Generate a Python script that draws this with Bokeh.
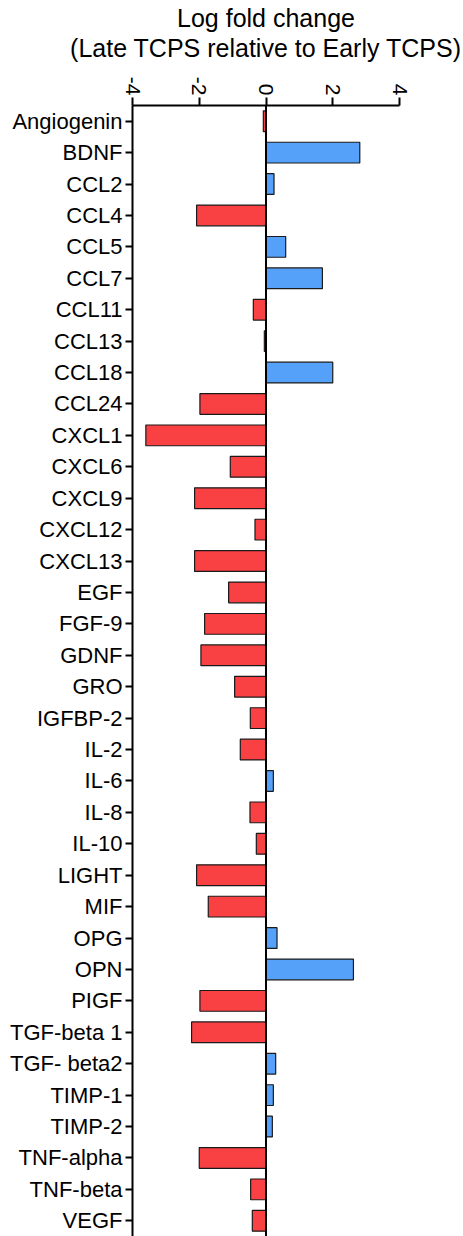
import math
from bokeh.plotting import figure
from bokeh.models import FactorRange, Range1d, Span, FixedTicker, ColumnDataSource
from bokeh.embed import file_html
from bokeh.resources import INLINE

categories = ["Angiogenin", "BDNF", "CCL2", "CCL4", "CCL5", "CCL7", "CCL11", "CCL13",
              "CCL18", "CCL24", "CXCL1", "CXCL6", "CXCL9", "CXCL12", "CXCL13", "EGF",
              "FGF-9", "GDNF", "GRO", "IGFBP-2", "IL-2", "IL-6", "IL-8", "IL-10",
              "LIGHT", "MIF", "OPG", "OPN", "PIGF", "TGF-beta 1", "TGF- beta2",
              "TIMP-1", "TIMP-2", "TNF-alpha", "TNF-beta", "VEGF"]
log_fold_change = [-0.08, 2.81, 0.24, -2.08, 0.59, 1.69, -0.38, -0.05,
                   2.0, -1.98, -3.6, -1.07, -2.14, -0.33, -2.14, -1.12,
                   -1.84, -1.95, -0.94, -0.47, -0.77, 0.22, -0.48, -0.29,
                   -2.08, -1.73, 0.33, 2.62, -1.98, -2.23, 0.29,
                   0.22, 0.19, -2.0, -0.46, -0.41]
x_ticks = [-4, -2, 0, 2, 4]
x_tick_labels = ["-4", "-2", "0", "2", "4"]

RED = "#F94144"
BLUE = "#55A0F9"
colors = [BLUE if v > 0 else RED for v in log_fold_change]

source = ColumnDataSource(dict(cat=categories, val=log_fold_change,
                               zero=[0] * len(categories), color=colors))

FONT = "Liberation Sans"

p = figure(width=463, height=1236,
           y_range=FactorRange(*list(reversed(categories)), range_padding=0),
           x_range=Range1d(-4, 4),
           x_axis_location="above",
           output_backend="svg", toolbar_location=None,
           min_border_left=132, min_border_top=105, min_border_right=64,
           min_border_bottom=0)

p.hbar(y="cat", left="zero", right="val", height=0.66, source=source,
       fill_color="color", line_color="#1a1a1a", line_width=1.2)

p.add_layout(Span(location=0, dimension="height", line_color="black", line_width=2))

p.xgrid.visible = False
p.ygrid.visible = False
p.outline_line_color = None

xa = p.xaxis[0]
xa.ticker = FixedTicker(ticks=x_ticks)
xa.major_label_overrides = {t: s for t, s in zip(x_ticks, x_tick_labels)}
xa.minor_tick_line_color = None
xa.major_tick_out = 8
xa.major_tick_in = 0
xa.major_tick_line_width = 2
xa.axis_line_width = 2
xa.major_label_orientation = -math.pi / 2
xa.major_label_text_font = FONT
xa.major_label_text_font_size = "21px"
xa.major_label_text_color = "black"
xa.major_label_standoff = 2
xa.axis_label = "Log fold change\n(Late TCPS relative to Early TCPS)"
xa.axis_label_text_font = FONT
xa.axis_label_text_font_size = "25px"
xa.axis_label_text_font_style = "normal"
xa.axis_label_text_color = "black"
xa.axis_label_text_line_height = 1.05
xa.axis_label_standoff = 12

ya = p.yaxis[0]
ya.major_tick_out = 7
ya.major_tick_in = 0
ya.major_tick_line_width = 2
ya.axis_line_width = 2
ya.major_label_text_font = FONT
ya.major_label_text_font_size = "22px"
ya.major_label_text_color = "black"
ya.major_label_standoff = 3

open("out.html", "w").write(file_html(p, INLINE))
